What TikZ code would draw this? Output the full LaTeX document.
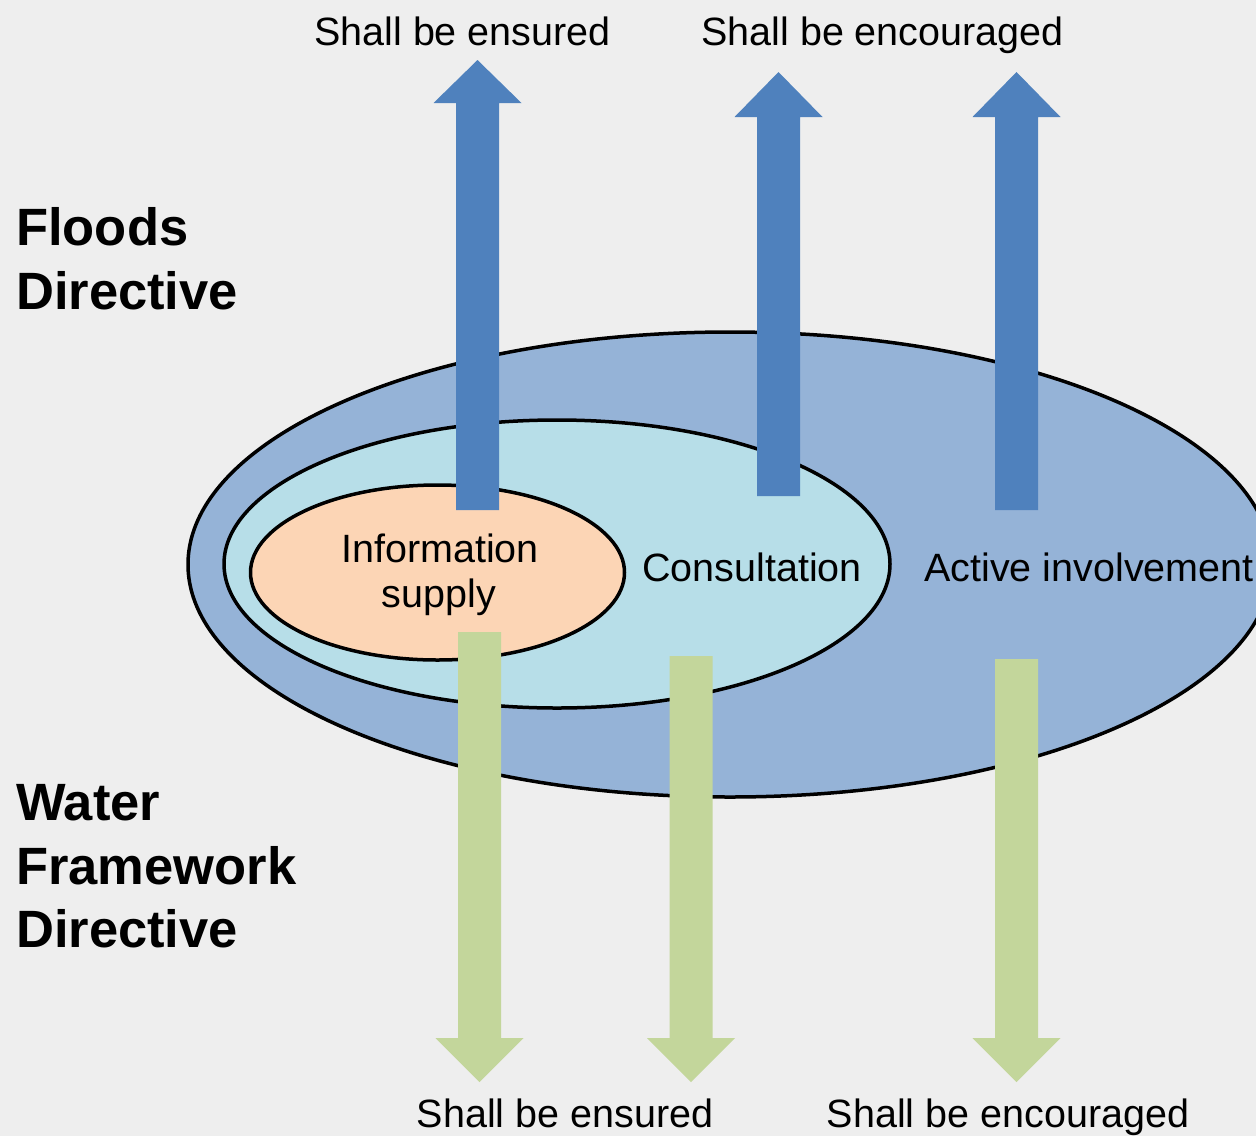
\documentclass[tikz,border=0pt]{standalone}
\usepackage{fontspec}
\setmainfont{Liberation Sans}
\definecolor{bgcol}{HTML}{EEEEEE}
\definecolor{outercol}{HTML}{95B3D7}
\definecolor{middlecol}{HTML}{B7DEE8}
\definecolor{innercol}{HTML}{FCD5B5}
\definecolor{fdblue}{HTML}{4F81BD}
\definecolor{wfdgreen}{HTML}{C3D69B}
\begin{document}
\begin{tikzpicture}[x=1pt,y=-1pt,
    ring/.style={draw=black,line width=3.5pt},
    label/.style={inner sep=0pt,anchor=base,font=\fontsize{39.5}{46}\selectfont},
    directive/.style={inner sep=0pt,anchor=base west,font=\fontsize{52.5}{65}\selectfont\bfseries},
    fdarrow/.style={fill=fdblue},
    wfdarrow/.style={fill=wfdgreen}]
  \newcommand{\blockarrow}[5]{% style, x, tail y, head base y, tip y
    \fill[#1] ({#2-21.5},#3) -- ({#2-21.5},#4) -- ({#2-44},#4) -- (#2,#5)
      -- ({#2+44},#4) -- ({#2+21.5},#4) -- ({#2+21.5},#3) -- cycle;}
  \useasboundingbox (0,0) rectangle (1256,1136);
  \clip (0,0) rectangle (1256,1136);
  \fill[bgcol] (0,0) rectangle (1256,1136);
  % the three levels of participation
  \draw[ring,fill=outercol] (730,564.5) ellipse (542 and 232.5);
  \draw[ring,fill=middlecol] (557,564) ellipse (333 and 144);
  \draw[ring,fill=innercol] (437.5,572.5) ellipse (187 and 87.5);
  % Floods Directive arrows
  \foreach \x/\tail/\base/\tip in {477.5/510/103/60, 778.5/496/117/72, 1016.5/510/117/72}
    \blockarrow{fdarrow}{\x}{\tail}{\base}{\tip};
  % Water Framework Directive arrows
  \foreach \x/\tail in {479.5/632, 691/656, 1016.5/659}
    \blockarrow{wfdarrow}{\x}{\tail}{1038}{1082};
  \node[label] (info) at (440,562) {Information};
  \node[label] (supply) at (439,607) {supply};
  \node[label] (consult) at (752,581) {Consultation};
  \node[label] (active) at (1089,581) {Active involvement};
  \node[label] (fdensured) at (462.5,45) {Shall be ensured};
  \node[label] (fdencouraged) at (882.5,45) {Shall be encouraged};
  \node[label] (wfdensured) at (565,1127) {Shall be ensured};
  \node[label] (wfdencouraged) at (1008,1127) {Shall be encouraged};
  \node[directive] (floods) at (16,245) {Floods};
  \node[directive] (fddir) at (16,309) {Directive};
  \node[directive] (water) at (16,820) {Water};
  \node[directive] (framework) at (16,884) {Framework};
  \node[directive] (wfddir) at (16,947) {Directive};
\end{tikzpicture}
\end{document}
